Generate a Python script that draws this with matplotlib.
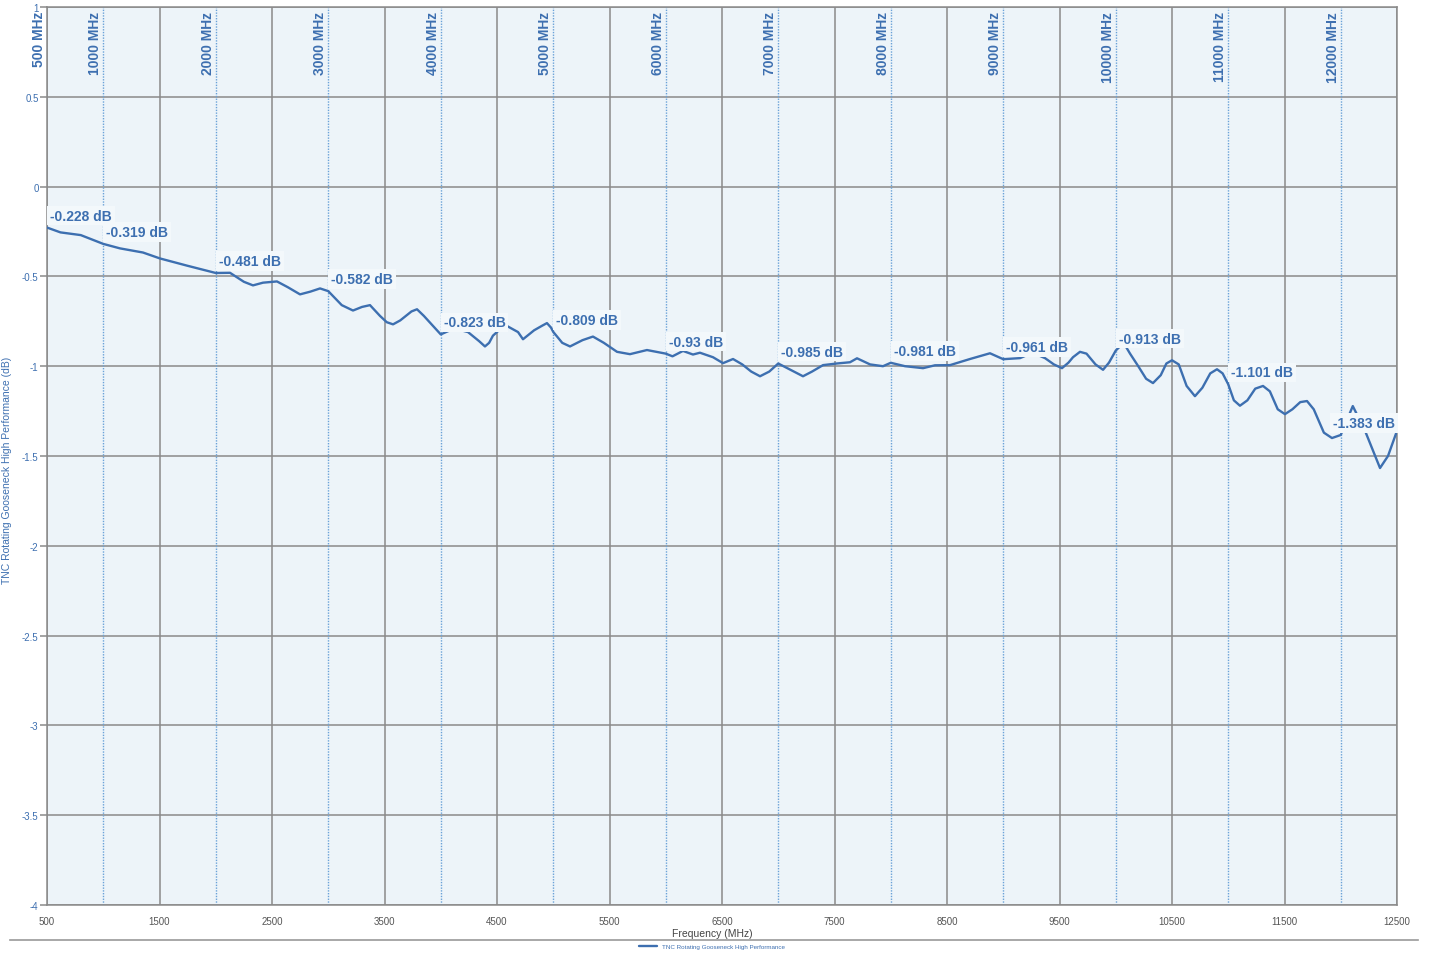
import numpy as np
import matplotlib
matplotlib.use("Agg")
import matplotlib.pyplot as plt
from matplotlib.lines import Line2D

plt.rcParams['font.family'] = ['Liberation Sans', 'DejaVu Sans']

# insertion loss trace (MHz, dB)
freq = [500, 620, 800, 1000, 1149, 1353, 1504, 1744, 2000, 2127, 2250, 2331,
        2420, 2544, 2640, 2749, 2840, 2927, 3000, 3120, 3220, 3300, 3371, 3460,
        3520, 3576, 3640, 3740, 3789, 3850, 4000, 4120, 4242, 4340, 4393, 4430,
        4464, 4571, 4687, 4731, 4830, 4900, 4944, 4980, 5000, 5080, 5149, 5260,
        5353, 5450, 5567, 5682, 5833, 6000, 6060, 6153, 6242, 6304, 6420, 6509,
        6598, 6680, 6760, 6838, 6920, 7000, 7140, 7220, 7300, 7398, 7520, 7638,
        7700, 7816, 7931, 8000, 8127, 8287, 8393, 8527, 8704, 8882, 9000, 9149,
        9260, 9371, 9450, 9522, 9580, 9620, 9682, 9740, 9820, 9887, 9940,
        10000, 10070, 10127, 10200, 10270, 10331, 10400, 10450, 10500, 10560,
        10630, 10704, 10770, 10840, 10900, 10950, 11000, 11050, 11104, 11170,
        11240, 11309, 11370, 11440, 11504, 11570, 11640, 11700, 11760, 11850,
        11922, 12000, 12107, 12216, 12280, 12349, 12420, 12500]
loss = [-0.228, -0.255, -0.27, -0.319, -0.344, -0.367, -0.40, -0.44, -0.481,
        -0.48, -0.53, -0.55, -0.535, -0.528, -0.56, -0.60, -0.585, -0.567,
        -0.582, -0.66, -0.69, -0.67, -0.66, -0.72, -0.755, -0.767, -0.745,
        -0.695, -0.683, -0.72, -0.823, -0.79, -0.81, -0.86, -0.89, -0.87,
        -0.83, -0.77, -0.81, -0.85, -0.80, -0.775, -0.76, -0.785, -0.809,
        -0.87, -0.89, -0.855, -0.835, -0.87, -0.92, -0.933, -0.91, -0.93,
        -0.945, -0.915, -0.935, -0.925, -0.95, -0.983, -0.96, -0.99, -1.03,
        -1.056, -1.03, -0.985, -1.03, -1.056, -1.03, -0.994, -0.985, -0.978,
        -0.956, -0.99, -1.0, -0.981, -1.0, -1.011, -0.995, -0.994, -0.96,
        -0.928, -0.961, -0.955, -0.925, -0.955, -0.99, -1.011, -0.98, -0.95,
        -0.92, -0.93, -0.99, -1.02, -0.98, -0.913, -0.87, -0.93, -1.0, -1.07,
        -1.094, -1.05, -0.985, -0.967, -0.99, -1.11, -1.167, -1.12, -1.04,
        -1.017, -1.04, -1.101, -1.19, -1.22, -1.19, -1.125, -1.11, -1.14,
        -1.24, -1.267, -1.24, -1.2, -1.194, -1.24, -1.37, -1.4, -1.383,
        -1.222, -1.36, -1.46, -1.567, -1.5, -1.36]

# marker readouts
mark_freq = [500, 1000, 2000, 3000, 4000, 5000, 6000, 7000, 8000, 9000,
             10000, 11000, 12000]
mark_db = [-0.228, -0.319, -0.481, -0.582, -0.823, -0.809, -0.93, -0.985,
           -0.981, -0.961, -0.913, -1.101, -1.383]

xticks = list(range(500, 12501, 1000))
yticks = [-4, -3.5, -3, -2.5, -2, -1.5, -1, -0.5, 0, 0.5, 1]
ytick_labels = ['-4', '-3.5', '-3', '-2.5', '-2', '-1.5', '-1', '-0.5', '0', '0.5', '1']

trace_name = 'TNC Rotating Gooseneck High Performance'

blue = '#3d6fb0'
bg = '#edf4f9'
grid_gray = '#8a8a8a'

fig = plt.figure(figsize=(14.32, 9.54), dpi=100)
ax = fig.add_axes([47 / 1432, 48 / 954, 1350 / 1432, 898 / 954])
ax.set_facecolor(bg)

ax.set_xlim(500, 12500)
ax.set_ylim(-4, 1)
ax.set_xticks(xticks)
ax.set_yticks(yticks)
ax.set_yticklabels(ytick_labels)
ax.grid(True, color=grid_gray, lw=1.1, zorder=0)
ax.set_axisbelow(True)
for s in ax.spines.values():
    s.set_color(grid_gray)
    s.set_linewidth(1.1)
ax.tick_params(axis='x', length=0, pad=8, labelsize=7, labelcolor='#555555')
ax.tick_params(axis='y', length=5, width=1.1, color=grid_gray, pad=1,
               labelsize=7, labelcolor=blue)

# dotted marker lines with rotated labels
for f in [500] + mark_freq[1:]:
    if f > 500:
        ax.axvline(f, color='#6aa2d8', lw=1.0, ls=(0, (1, 1)), zorder=1)
    ax.annotate(f'{f} MHz', xy=(f, 1), xycoords=('data', 'axes fraction'),
                xytext=(-1, -4), textcoords='offset pixels', rotation=90,
                ha='right', va='top', fontsize=10, fontweight='bold',
                color=blue, annotation_clip=False)

ax.plot(freq, loss, color=blue, lw=1.7, zorder=3, label=trace_name,
        solid_joinstyle='round', solid_capstyle='round')

for f, v in zip(mark_freq, mark_db):
    off = (-8, 12) if f >= 12000 else (3, 12)
    ax.annotate(f'{v:g} dB', xy=(f, v), xytext=off, textcoords='offset pixels',
                ha='left', va='center', fontsize=10, fontweight='bold', color=blue,
                bbox=dict(boxstyle='square,pad=0.2', fc='#f3f8fb', ec='none'),
                zorder=5)

ax.set_ylabel(trace_name + ' (dB)', fontsize=7.5, color=blue)
ax.yaxis.set_label_coords(-0.026, 0.4855)
ax.set_xlabel('Frequency (MHz)', fontsize=7.5, color='#444444')
ax.xaxis.set_label_coords(0.4926, -0.026)

fig.add_artist(Line2D([10 / 1432, 1418 / 1432], [1 - 941 / 954] * 2,
                      color='#999999', lw=1.2))
fig.legend(loc='center', bbox_to_anchor=(712 / 1432, 1 - 947 / 954),
           fontsize=4.5, frameon=False, handlelength=3, labelcolor=blue)

fig.savefig('out.png', dpi=100, facecolor='white')
